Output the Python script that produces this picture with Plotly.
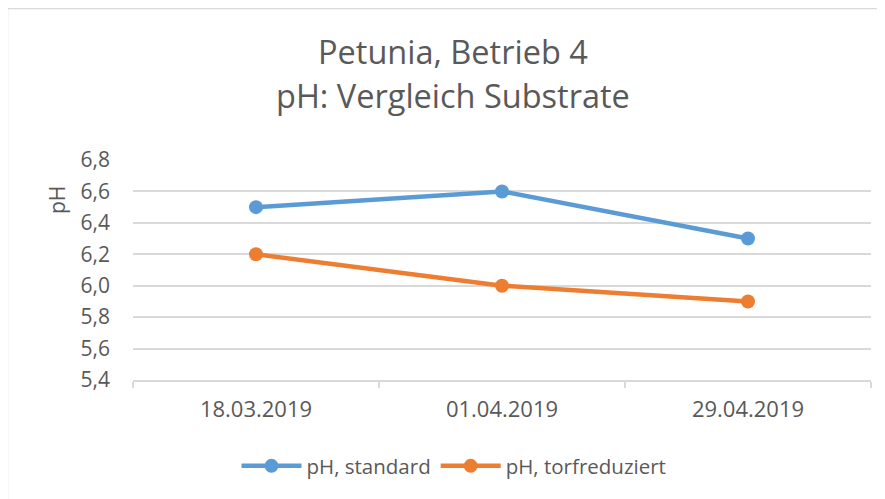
import plotly.graph_objects as go

dates = ["18.03.2019", "01.04.2019", "29.04.2019"]
ph_standard = [6.5, 6.6, 6.3]
ph_torf = [6.2, 6.0, 5.9]
y_ticks = [5.4, 5.6, 5.8, 6.0, 6.2, 6.4, 6.6, 6.8]

FONT = "Open Sans"
TXT = "#595959"
GRID = "#d9d9d9"

fig = go.Figure()
fig.add_trace(go.Scatter(x=dates, y=ph_standard, name="pH, standard", mode="lines+markers",
                         line=dict(color="#5b9bd5", width=4.5),
                         marker=dict(color="#5b9bd5", size=14)))
fig.add_trace(go.Scatter(x=dates, y=ph_torf, name="pH, torfreduziert", mode="lines+markers",
                         line=dict(color="#ed7d31", width=4.5),
                         marker=dict(color="#ed7d31", size=14)))

OFF = 8  # page body margin
W, H = 885 - OFF, 499 - OFF
L, R, T, B = 133 - OFF, 871 - OFF, 160 - OFF, 380 - OFF
pw, ph = R - L, B - T

def px(x):
    return (x - OFF - L) / pw

def py(y):
    return (B - (y - OFF)) / ph

fig.update_layout(
    width=W, height=H,
    margin=dict(l=L, r=W - R, t=T, b=H - B),
    paper_bgcolor="white", plot_bgcolor="white",
    separators=",.",
    font=dict(family=FONT, color=TXT, size=21),
    showlegend=True,
    legend=dict(orientation="h", x=px(454), xanchor="center", y=py(466), yanchor="middle",
                font=dict(size=20.5, color=TXT), itemwidth=60, traceorder="normal"),
    xaxis=dict(type="category", range=[-0.5, 2.5], showgrid=False, showline=True,
               linecolor=GRID, linewidth=1.5, ticks="outside", tickson="boundaries",
               ticklen=6, tickcolor=GRID, tickwidth=1.5, ticklabelstandoff=9,
               tickfont=dict(size=22, color=TXT), zeroline=False, fixedrange=True),
    yaxis=dict(range=[5.4, 6.8], tickvals=y_ticks, tickformat=".1f", showgrid=True,
               gridcolor=GRID, gridwidth=1.5, showline=False, zeroline=False, ticks="",
               ticklabelstandoff=22, tickfont=dict(size=21, color=TXT), fixedrange=True),
    shapes=[
        dict(type="line", xref="paper", yref="paper", x0=px(7.5), x1=px(7.5),
             y0=py(499), y1=py(8.5), line=dict(color=GRID, width=1.5), layer="below"),
        dict(type="line", xref="paper", yref="paper", x0=px(7.5), x1=px(885),
             y0=py(8.5), y1=py(8.5), line=dict(color=GRID, width=1.5), layer="below"),
    ],
    annotations=[
        dict(text="Petunia, Betrieb 4", xref="paper", yref="paper", x=px(453), y=py(51),
             xanchor="center", yanchor="middle", showarrow=False,
             font=dict(size=32.5, color=TXT, family=FONT)),
        dict(text="pH: Vergleich Substrate", xref="paper", yref="paper", x=px(453), y=py(95),
             xanchor="center", yanchor="middle", showarrow=False,
             font=dict(size=32.5, color=TXT, family=FONT)),
        dict(text="pH", xref="paper", yref="paper", x=px(57), y=py(200), textangle=-90,
             xanchor="center", yanchor="middle", showarrow=False,
             font=dict(size=21, color=TXT, family=FONT)),
    ],
)

fig.write_html("out.html", config={"displayModeBar": False})
